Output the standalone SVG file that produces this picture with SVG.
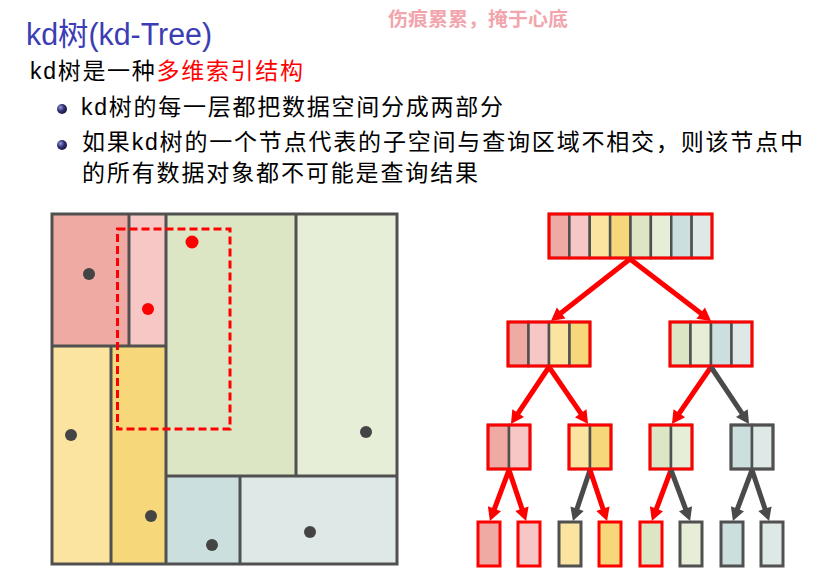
<svg xmlns="http://www.w3.org/2000/svg" width="836" height="570" viewBox="0 0 836 570">
<style>
  .cjk { font-family: "Liberation Sans", "Noto Sans CJK SC", sans-serif; }
  .body { font-size: 23px; fill: #000; }
  .c1 { fill: #efaaa3; } .c2 { fill: #f6c7c4; } .c3 { fill: #fbe4a0; } .c4 { fill: #f6d87a; }
  .c5 { fill: #dce6c4; } .c6 { fill: #e6eed8; } .c7 { fill: #cbdfde; } .c8 { fill: #dde8e7; }
  .cell { stroke: #505050; stroke-width: 2.5; }
  .bred { fill: none; stroke: #ff0000; stroke-width: 3; }
  .bgray { fill: none; stroke: #505050; stroke-width: 3; }
  .split { stroke: #505050; stroke-width: 3; fill: none; }
  .dot { fill: #444444; }
  .qdot { fill: #ff0000; }
  .ared { stroke: #ff0000; stroke-width: 5; fill: none; marker-end: url(#hr); }
  .agray { stroke: #4a4a4a; stroke-width: 5; fill: none; marker-end: url(#hg); }
</style>
<defs>
  <radialGradient id="ball" cx="0.35" cy="0.35" r="0.7">
    <stop offset="0" stop-color="#9a9ad8"/>
    <stop offset="0.5" stop-color="#33337a"/>
    <stop offset="1" stop-color="#15153a"/>
  </radialGradient>
  <marker id="hr" markerUnits="userSpaceOnUse" markerWidth="16" markerHeight="16" viewBox="0 -8 14 16" refX="3" refY="0" orient="auto">
    <path d="M0,-7 L13,0 L0,7 z" fill="#ff0000"/>
  </marker>
  <marker id="hg" markerUnits="userSpaceOnUse" markerWidth="16" markerHeight="16" viewBox="0 -8 14 16" refX="3" refY="0" orient="auto">
    <path d="M0,-7 L13,0 L0,7 z" fill="#4a4a4a"/>
  </marker>
</defs>
<rect width="836" height="570" fill="#ffffff"/>

<g id="watermark">
  <text class="cjk" x="388" y="26" font-size="19" font-weight="bold" fill="#f2a5ad" textLength="180" lengthAdjust="spacingAndGlyphs">伤痕累累，掩于心底</text>
</g>

<g id="title">
  <text class="cjk" x="26" y="45" font-size="31" fill="#3c3cb4" textLength="186" lengthAdjust="spacingAndGlyphs">kd树(kd-Tree)</text>
</g>

<g id="text-body">
  <text class="cjk body" x="30" y="79" textLength="273" lengthAdjust="spacing">kd树是一种<tspan fill="#ff0000">多维索引结构</tspan></text>
  <circle cx="62" cy="109" r="5" fill="url(#ball)"/>
  <text class="cjk body" x="81" y="115" textLength="422" lengthAdjust="spacing">kd树的每一层都把数据空间分成两部分</text>
  <circle cx="62" cy="145" r="5" fill="url(#ball)"/>
  <text class="cjk body" x="82" y="150" textLength="721" lengthAdjust="spacing">如果kd树的一个节点代表的子空间与查询区域不相交，则该节点中</text>
  <text class="cjk body" x="82" y="181" textLength="396" lengthAdjust="spacing">的所有数据对象都不可能是查询结果</text>
</g>

<g id="space-partition">
  <rect class="c1" x="52" y="214" width="77" height="132"/>
  <rect class="c2" x="129" y="214" width="37" height="132"/>
  <rect class="c3" x="52" y="346" width="59" height="218"/>
  <rect class="c4" x="111" y="346" width="55" height="218"/>
  <rect class="c5" x="166" y="214" width="130" height="262"/>
  <rect class="c6" x="296" y="214" width="101" height="262"/>
  <rect class="c7" x="166" y="476" width="74" height="88"/>
  <rect class="c8" x="240" y="476" width="157" height="88"/>
  <line class="split" x1="166" y1="214" x2="166" y2="564"/>
  <line class="split" x1="52" y1="346" x2="166" y2="346"/>
  <line class="split" x1="129" y1="214" x2="129" y2="346"/>
  <line class="split" x1="111" y1="346" x2="111" y2="564"/>
  <line class="split" x1="166" y1="476" x2="397" y2="476"/>
  <line class="split" x1="296" y1="214" x2="296" y2="476"/>
  <line class="split" x1="240" y1="476" x2="240" y2="564"/>
  <rect class="split" x="52" y="214" width="345" height="350"/>
  <circle class="dot" cx="89" cy="274" r="6"/>
  <circle class="dot" cx="71" cy="435" r="6"/>
  <circle class="dot" cx="366" cy="432" r="6"/>
  <circle class="dot" cx="151" cy="516" r="6"/>
  <circle class="dot" cx="212" cy="545" r="6"/>
  <circle class="dot" cx="310" cy="532" r="6"/>
  <rect x="117.5" y="229" width="112.5" height="200" fill="none" stroke="#ff0000" stroke-width="3" stroke-dasharray="8,4"/>
  <circle class="qdot" cx="148" cy="309" r="6"/>
  <circle class="qdot" cx="192" cy="242" r="6.5"/>
</g>

<g id="node-root">
  <rect class="cell c1" x="549" y="214" width="20.375" height="44"/>
  <rect class="cell c2" x="569.375" y="214" width="20.375" height="44"/>
  <rect class="cell c3" x="589.75" y="214" width="20.375" height="44"/>
  <rect class="cell c4" x="610.125" y="214" width="20.375" height="44"/>
  <rect class="cell c5" x="630.5" y="214" width="20.375" height="44"/>
  <rect class="cell c6" x="650.875" y="214" width="20.375" height="44"/>
  <rect class="cell c7" x="671.25" y="214" width="20.375" height="44"/>
  <rect class="cell c8" x="691.625" y="214" width="20.375" height="44"/>
  <rect class="bred" x="549" y="214" width="163" height="44"/>
</g>

<g id="node-L">
  <rect class="cell c1" x="508" y="322" width="20.5" height="44"/>
  <rect class="cell c2" x="528.5" y="322" width="20.5" height="44"/>
  <rect class="cell c3" x="549" y="322" width="20.5" height="44"/>
  <rect class="cell c4" x="569.5" y="322" width="20.5" height="44"/>
  <rect class="bred" x="508" y="322" width="82" height="44"/>
</g>
<g id="node-R">
  <rect class="cell c5" x="670" y="322" width="20.5" height="44"/>
  <rect class="cell c6" x="690.5" y="322" width="20.5" height="44"/>
  <rect class="cell c7" x="711" y="322" width="20.5" height="44"/>
  <rect class="cell c8" x="731.5" y="322" width="20.5" height="44"/>
  <rect class="bred" x="670" y="322" width="82" height="44"/>
</g>

<g id="node-LL">
  <rect class="cell c1" x="488" y="425" width="21" height="44"/>
  <rect class="cell c2" x="509" y="425" width="21" height="44"/>
  <rect class="bred" x="488" y="425" width="42" height="44"/>
</g>
<g id="node-LR">
  <rect class="cell c3" x="569" y="425" width="21" height="44"/>
  <rect class="cell c4" x="590" y="425" width="21" height="44"/>
  <rect class="bred" x="569" y="425" width="42" height="44"/>
</g>
<g id="node-RL">
  <rect class="cell c5" x="650" y="425" width="21" height="44"/>
  <rect class="cell c6" x="671" y="425" width="21" height="44"/>
  <rect class="bred" x="650" y="425" width="42" height="44"/>
</g>
<g id="node-RR">
  <rect class="cell c7" x="731" y="425" width="21" height="44"/>
  <rect class="cell c8" x="752" y="425" width="21" height="44"/>
  <rect class="bgray" x="731" y="425" width="42" height="44"/>
</g>

<g id="leaf-1"><rect class="bred" x="478" y="522" width="22" height="44" style="fill:#efaaa3"/></g>
<g id="leaf-2"><rect class="bred" x="518" y="522" width="22" height="44" style="fill:#f6c7c4"/></g>
<g id="leaf-3"><rect class="bgray" x="559" y="522" width="22" height="44" style="fill:#fbe4a0"/></g>
<g id="leaf-4"><rect class="bred" x="599" y="522" width="22" height="44" style="fill:#f6d87a"/></g>
<g id="leaf-5"><rect class="bred" x="640" y="522" width="22" height="44" style="fill:#dce6c4"/></g>
<g id="leaf-6"><rect class="bgray" x="680" y="522" width="22" height="44" style="fill:#e6eed8"/></g>
<g id="leaf-7"><rect class="bgray" x="721" y="522" width="22" height="44" style="fill:#cbdfde"/></g>
<g id="leaf-8"><rect class="bgray" x="761" y="522" width="22" height="44" style="fill:#dde8e7"/></g>

<g id="connectors">
  <line class="ared" x1="630" y1="259" x2="558.8" y2="314.8"/>
  <line class="ared" x1="630" y1="259" x2="703.1" y2="314.9"/>
  <line class="ared" x1="549" y1="367" x2="516.5" y2="415.6"/>
  <line class="ared" x1="549" y1="367" x2="582.4" y2="415.7"/>
  <line class="ared" x1="711" y1="367" x2="677.6" y2="415.7"/>
  <line class="agray" x1="711" y1="367" x2="743.5" y2="415.6"/>
  <line class="ared" x1="509" y1="470" x2="493.4" y2="511.6"/>
  <line class="ared" x1="509" y1="470" x2="522.9" y2="511.5"/>
  <line class="agray" x1="590" y1="470" x2="576.1" y2="511.5"/>
  <line class="ared" x1="590" y1="470" x2="603.9" y2="511.5"/>
  <line class="ared" x1="671" y1="470" x2="655.4" y2="511.6"/>
  <line class="agray" x1="671" y1="470" x2="686.6" y2="511.6"/>
  <line class="agray" x1="752" y1="470" x2="736.4" y2="511.6"/>
  <line class="agray" x1="752" y1="470" x2="765.9" y2="511.5"/>
</g>
</svg>
